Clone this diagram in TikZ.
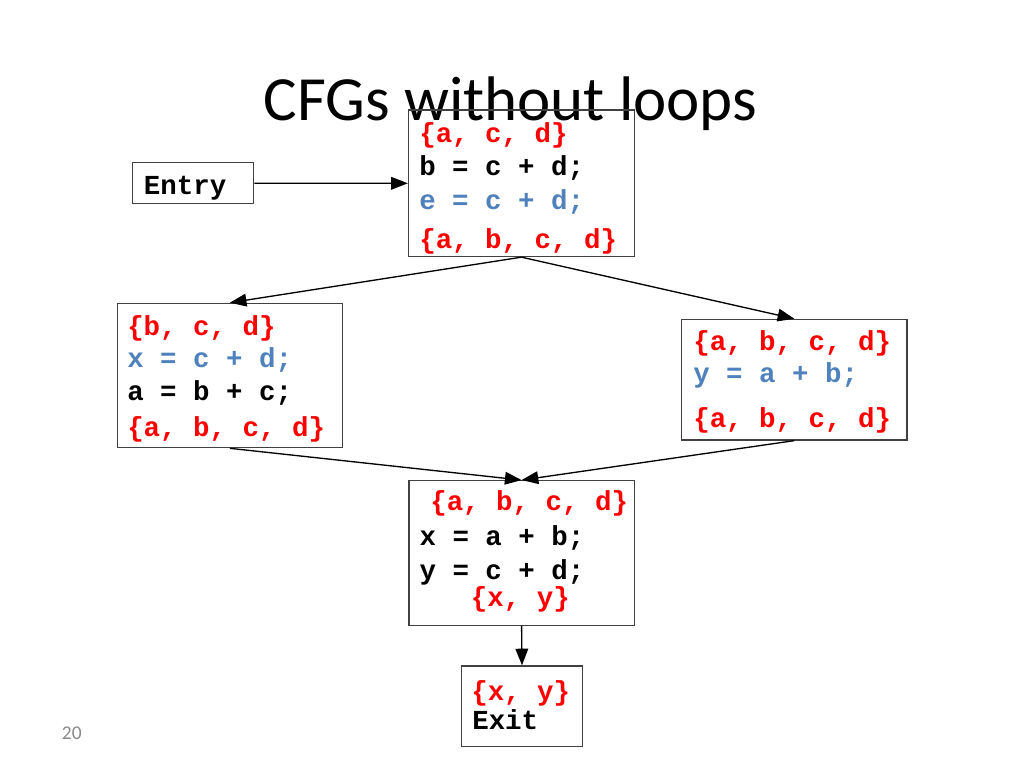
\documentclass[tikz,border=0pt]{standalone}
\usepackage{fontspec}
\setmainfont{Carlito}
\newfontfamily\cmono{Liberation Mono}
\usetikzlibrary{arrows.meta}
\definecolor{codered}{RGB}{255,0,0}
\definecolor{codeblue}{RGB}{79,129,189}
\definecolor{pagegray}{RGB}{137,137,137}
\begin{document}
\begin{tikzpicture}[x=0.75pt,y=-0.75pt,
  box/.style={draw=black!75,line width=0.9pt,inner sep=0pt},
  code/.style={anchor=base west,inner sep=0pt,font=\cmono\bfseries\fontsize{20.6}{24}\selectfont},
  conn/.style={draw=black,line width=1pt,-{Triangle[length=12.5pt,width=9.5pt]}}]
\useasboundingbox (0,0) rectangle (1024,768);
\node[anchor=base,inner sep=0pt,font=\fontsize{47.2}{56}\selectfont] (title) at (510.5,120.7) {CFGs without loops};
\node[anchor=base west,inner sep=0pt,text=pagegray,font=\fontsize{14.6}{17}\selectfont] (pnum) at (61.7,739) {20};
% boxes
\node[box,minimum width=90.8pt,minimum height=31pt] (entry) at (193.3,183.2) {};
\node[box,minimum width=169.6pt,minimum height=109.9pt] (top) at (521.5,183.3) {};
\node[box,minimum width=168.7pt,minimum height=108.3pt] (left) at (229.8,375.5) {};
\node[box,minimum width=169pt,minimum height=90.5pt] (right) at (794.3,379.7) {};
\node[box,minimum width=169pt,minimum height=108.5pt] (mid) at (521.6,553) {};
\node[box,minimum width=90.5pt,minimum height=60.5pt] (exit) at (522,706.3) {};
% texts
\node[code] (tEntry) at (143.7,194) {Entry};
\node[code,text=codered] (t1) at (419,142.3) {\{a, c, d\}};
\node[code] (t2) at (419,175) {b = c + d;};
\node[code,text=codeblue] (t3) at (419,209.5) {e = c + d;};
\node[code,text=codered] (t4) at (419,248.5) {\{a, b, c, d\}};
\node[code,text=codered] (l1) at (127,335) {\{b, c, d\}};
\node[code,text=codeblue] (l2) at (127,367.5) {x = c + d;};
\node[code] (l3) at (127,400.7) {a = b + c;};
\node[code,text=codered] (l4) at (127,436) {\{a, b, c, d\}};
\node[code,text=codered] (r1) at (693,350.5) {\{a, b, c, d\}};
\node[code,text=codeblue] (r2) at (693,382.5) {y = a + b;};
\node[code,text=codered] (r3) at (693,427) {\{a, b, c, d\}};
\node[code,text=codered] (m1) at (430,510.7) {\{a, b, c, d\}};
\node[code] (m2) at (419.3,545) {x = a + b;};
\node[code] (m3) at (419.3,579) {y = c + d;};
\node[code,text=codered] (m4) at (470.7,606.7) {\{x, y\}};
\node[code,text=codered] (e1) at (471,700) {\{x, y\}};
\node[code] (e2) at (472,729.3) {Exit};
% connectors
\draw[conn] (entry.east) -- (top.west);
\draw[conn] (top.south) -- (left.north);
\draw[conn] (top.south) -- (right.north);
\draw[conn] (left.south) -- (mid.north);
\draw[conn] (right.south) -- (mid.north);
\draw[conn] (mid.south) -- (exit.north);
\end{tikzpicture}
\end{document}
